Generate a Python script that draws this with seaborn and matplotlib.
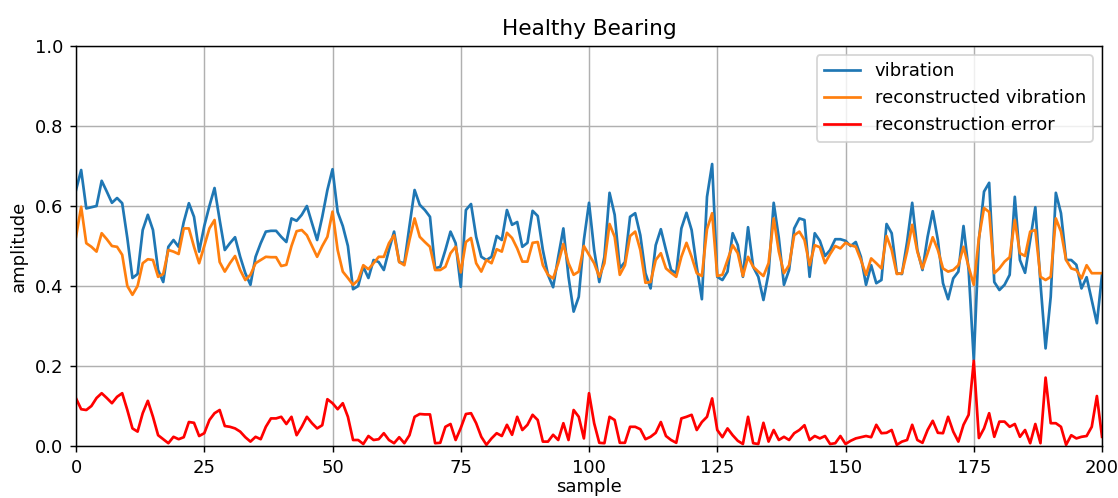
import numpy as np
import pandas as pd
import matplotlib
matplotlib.use("Agg")
import matplotlib.pyplot as plt
import seaborn as sns

# ------------------------------------------------------------
# Dados (amostras 0..200)
# ------------------------------------------------------------

sample = list(range(201))

vibration = [
    0.640, 0.690, 0.594, 0.597, 0.600, 0.663, 0.636, 0.608, 0.620, 0.607,
    0.520, 0.420, 0.430, 0.540, 0.578, 0.540, 0.440, 0.410, 0.498, 0.515,
    0.498, 0.560, 0.607, 0.573, 0.486, 0.550, 0.600, 0.645, 0.565, 0.490,
    0.507, 0.522, 0.473, 0.432, 0.403, 0.473, 0.507, 0.536, 0.538, 0.538,
    0.523, 0.510, 0.569, 0.563, 0.578, 0.600, 0.557, 0.515, 0.573, 0.640,
    0.692, 0.585, 0.550, 0.500, 0.392, 0.400, 0.448, 0.420, 0.465, 0.460,
    0.440, 0.490, 0.536, 0.460, 0.457, 0.550, 0.640, 0.603, 0.590, 0.573,
    0.444, 0.448, 0.490, 0.536, 0.507, 0.398, 0.590, 0.605, 0.523, 0.473,
    0.465, 0.473, 0.525, 0.515, 0.590, 0.553, 0.560, 0.498, 0.508, 0.588,
    0.575, 0.490, 0.428, 0.397, 0.473, 0.544, 0.423, 0.336, 0.373, 0.515,
    0.608, 0.490, 0.410, 0.473, 0.633, 0.578, 0.444, 0.460, 0.573, 0.582,
    0.527, 0.432, 0.394, 0.502, 0.542, 0.490, 0.440, 0.432, 0.544, 0.583,
    0.540, 0.448, 0.367, 0.623, 0.705, 0.423, 0.415, 0.436, 0.532, 0.502,
    0.423, 0.547, 0.448, 0.423, 0.365, 0.432, 0.608, 0.520, 0.403, 0.440,
    0.544, 0.569, 0.565, 0.423, 0.532, 0.513, 0.475, 0.490, 0.517, 0.517,
    0.513, 0.500, 0.510, 0.473, 0.403, 0.452, 0.407, 0.415, 0.555, 0.532,
    0.432, 0.430, 0.510, 0.608, 0.490, 0.440, 0.523, 0.587, 0.515, 0.407,
    0.367, 0.419, 0.436, 0.550, 0.440, 0.215, 0.515, 0.636, 0.658, 0.410,
    0.390, 0.403, 0.428, 0.623, 0.465, 0.433, 0.515, 0.597, 0.407, 0.244,
    0.373, 0.633, 0.582, 0.465, 0.465, 0.453, 0.394, 0.422, 0.365, 0.307,
    0.428,
]

reconstructed = [
    0.523, 0.598, 0.507, 0.498, 0.486, 0.532, 0.517, 0.500, 0.498, 0.478,
    0.400, 0.378, 0.400, 0.457, 0.467, 0.465, 0.423, 0.430, 0.490, 0.486,
    0.480, 0.544, 0.544, 0.498, 0.457, 0.500, 0.544, 0.565, 0.460, 0.436,
    0.457, 0.475, 0.440, 0.415, 0.428, 0.457, 0.465, 0.473, 0.472, 0.472,
    0.450, 0.453, 0.500, 0.537, 0.540, 0.527, 0.500, 0.473, 0.500, 0.523,
    0.586, 0.490, 0.436, 0.420, 0.403, 0.415, 0.452, 0.442, 0.457, 0.473,
    0.473, 0.507, 0.527, 0.460, 0.452, 0.515, 0.569, 0.523, 0.510, 0.498,
    0.440, 0.440, 0.448, 0.482, 0.498, 0.434, 0.510, 0.520, 0.457, 0.436,
    0.465, 0.457, 0.492, 0.486, 0.533, 0.520, 0.494, 0.461, 0.461, 0.508,
    0.510, 0.452, 0.428, 0.419, 0.457, 0.505, 0.457, 0.428, 0.436, 0.500,
    0.478, 0.457, 0.423, 0.457, 0.555, 0.523, 0.428, 0.452, 0.525, 0.536,
    0.490, 0.408, 0.410, 0.465, 0.482, 0.444, 0.433, 0.423, 0.473, 0.508,
    0.473, 0.432, 0.425, 0.542, 0.582, 0.425, 0.428, 0.465, 0.502, 0.482,
    0.425, 0.473, 0.448, 0.436, 0.425, 0.457, 0.569, 0.486, 0.432, 0.452,
    0.527, 0.536, 0.515, 0.452, 0.502, 0.497, 0.457, 0.480, 0.500, 0.494,
    0.508, 0.502, 0.498, 0.465, 0.428, 0.469, 0.457, 0.444, 0.525, 0.490,
    0.430, 0.432, 0.486, 0.553, 0.486, 0.444, 0.482, 0.522, 0.490, 0.444,
    0.436, 0.440, 0.452, 0.498, 0.448, 0.403, 0.520, 0.595, 0.585, 0.432,
    0.444, 0.461, 0.472, 0.565, 0.482, 0.475, 0.536, 0.540, 0.423, 0.415,
    0.423, 0.569, 0.536, 0.465, 0.444, 0.440, 0.419, 0.452, 0.432, 0.432,
    0.432,
]

error = [
    0.119, 0.092, 0.090, 0.100, 0.120, 0.132, 0.120, 0.107, 0.123, 0.132,
    0.090, 0.044, 0.036, 0.082, 0.113, 0.073, 0.027, 0.017, 0.007, 0.023,
    0.017, 0.022, 0.060, 0.058, 0.025, 0.032, 0.065, 0.082, 0.090, 0.050,
    0.048, 0.044, 0.036, 0.022, 0.011, 0.023, 0.017, 0.048, 0.069, 0.069,
    0.073, 0.055, 0.073, 0.027, 0.048, 0.073, 0.057, 0.044, 0.052, 0.117,
    0.107, 0.092, 0.107, 0.073, 0.015, 0.015, 0.005, 0.025, 0.015, 0.017,
    0.032, 0.015, 0.007, 0.022, 0.007, 0.027, 0.073, 0.080, 0.079, 0.079,
    0.007, 0.008, 0.048, 0.055, 0.015, 0.045, 0.080, 0.082, 0.057, 0.023,
    0.003, 0.019, 0.032, 0.025, 0.053, 0.028, 0.073, 0.040, 0.053, 0.078,
    0.065, 0.011, 0.011, 0.028, 0.015, 0.057, 0.015, 0.090, 0.073, 0.019,
    0.132, 0.057, 0.008, 0.007, 0.073, 0.065, 0.008, 0.008, 0.048, 0.048,
    0.042, 0.017, 0.023, 0.033, 0.060, 0.025, 0.015, 0.008, 0.069, 0.073,
    0.078, 0.040, 0.060, 0.073, 0.119, 0.040, 0.022, 0.044, 0.027, 0.013,
    0.005, 0.073, 0.007, 0.005, 0.058, 0.011, 0.040, 0.015, 0.023, 0.015,
    0.032, 0.040, 0.052, 0.015, 0.025, 0.019, 0.025, 0.005, 0.007, 0.025,
    0.005, 0.013, 0.019, 0.022, 0.025, 0.022, 0.053, 0.032, 0.033, 0.040,
    0.003, 0.011, 0.015, 0.053, 0.015, 0.008, 0.040, 0.063, 0.033, 0.032,
    0.073, 0.036, 0.011, 0.053, 0.078, 0.213, 0.020, 0.044, 0.082, 0.023,
    0.061, 0.061, 0.048, 0.055, 0.023, 0.040, 0.007, 0.055, 0.007, 0.171,
    0.057, 0.057, 0.048, 0.003, 0.027, 0.019, 0.023, 0.025, 0.048, 0.125,
    0.023,
]

df = pd.DataFrame({
    "sample": sample,
    "vibration": vibration,
    "reconstructed vibration": reconstructed,
    "reconstruction error": error,
})

# ------------------------------------------------------------
# Gráfico (dpi 130 -> textos e linhas ~1.3x maiores, como no original)
# ------------------------------------------------------------

DPI = 130
fig = plt.figure(figsize=(1118 / DPI, 498 / DPI), dpi=DPI)
ax = fig.add_axes([0.068, 0.1044, 0.9177, 0.8032])

sns.lineplot(data=df, x="sample", y="vibration", color="#1f77b4",
             label="vibration", ax=ax, linewidth=1.5)
sns.lineplot(data=df, x="sample", y="reconstructed vibration", color="#ff7f0e",
             label="reconstructed vibration", ax=ax, linewidth=1.5)
sns.lineplot(data=df, x="sample", y="reconstruction error", color="red",
             label="reconstruction error", ax=ax, linewidth=1.5)

ax.set_xlim(0, 200)
ax.set_ylim(0, 1.0)
ax.set_xticks([0, 25, 50, 75, 100, 125, 150, 175, 200])
ax.set_yticks([0.0, 0.2, 0.4, 0.6, 0.8, 1.0])
ax.grid(True, color="#b0b0b0", linewidth=0.8)
ax.set_title("Healthy Bearing", fontsize=12)
ax.set_xlabel("sample", labelpad=1)
ax.set_ylabel("amplitude")
ax.legend(loc="upper right", fontsize=10)

fig.savefig("out.png", dpi=DPI)
